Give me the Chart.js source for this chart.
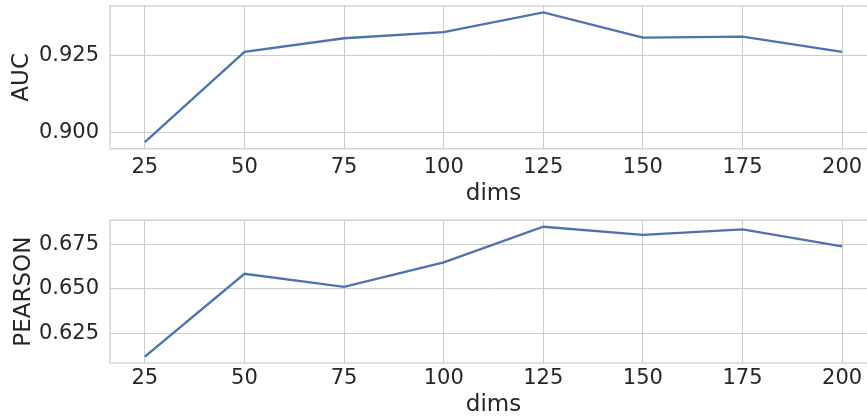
<!DOCTYPE html>
<html>
<head>
<meta charset="utf-8">
<script src="https://cdn.jsdelivr.net/npm/chart.js@4"></script>
<style>
  html, body { margin: 0; padding: 0; background: #fff; overflow: hidden; width: 867px; height: 420px; }
  .panel { position: absolute; left: 0; width: 900px; height: 210px; }
</style>
</head>
<body>
<div class="panel" style="top:0"><canvas id="aucChart"></canvas></div>
<div class="panel" style="top:210px"><canvas id="pearsonChart"></canvas></div>
<script>
const dims = [25, 50, 75, 100, 125, 150, 175, 200];
const auc = [0.8970, 0.9261, 0.9305, 0.9325, 0.9388, 0.9307, 0.9310, 0.9261];
const pearson = [0.6118, 0.6585, 0.6511, 0.6649, 0.6850, 0.6804, 0.6835, 0.6740];
const aucTicks = [0.900, 0.925];
const pearsonTicks = [0.625, 0.650, 0.675];
const dimTicks = [25, 50, 75, 100, 125, 150, 175, 200];

const gridColor = '#cccccc';
const textColor = '#262626';
const font = 'DejaVu Sans';

// draws the top/right spines like seaborn whitegrid
const frame = {
  id: 'frame',
  afterDraw(chart) {
    const { ctx, chartArea: a } = chart;
    ctx.save();
    ctx.strokeStyle = gridColor;
    ctx.lineWidth = 1.25;
    ctx.strokeRect(a.left, a.top, a.right - a.left, a.bottom - a.top);
    ctx.restore();
  }
};

function margins(lo, hi) {
  const pad = (hi - lo) * 0.05;
  return [lo - pad, hi + pad];
}

function makeChart(id, values, yTicks, yLabel, g) {
  const [xMin, xMax] = margins(Math.min(...dims), Math.max(...dims));
  const [yMin, yMax] = margins(Math.min(...values), Math.max(...values));
  return new Chart(document.getElementById(id), {
    type: 'line',
    data: {
      datasets: [{
        data: dims.map((d, i) => ({ x: d, y: values[i] })),
        borderColor: '#4c72b0',
        borderWidth: 2.3,
        pointRadius: 0,
        tension: 0
      }]
    },
    plugins: [frame],
    options: {
      responsive: true,
      maintainAspectRatio: false,
      animation: false,
      layout: { padding: { top: g.top, right: 23, left: 0, bottom: 0 } },
      plugins: { legend: { display: false }, tooltip: { enabled: false } },
      scales: {
        x: {
          type: 'linear',
          min: xMin,
          max: xMax,
          afterBuildTicks: s => { s.ticks = dimTicks.map(v => ({ value: v })); },
          afterFit: s => { s.height = g.xHeight; s.paddingLeft = 0; s.paddingRight = 0; },
          grid: { color: gridColor, lineWidth: 1, drawTicks: false },
          border: { display: false },
          ticks: { color: textColor, font: { family: font, size: 21 }, padding: g.tickPad, maxRotation: 0 },
          title: { display: true, text: 'dims', color: textColor, font: { family: font, size: 23 }, padding: { top: 0, bottom: g.titlePad } }
        },
        y: {
          min: yMin,
          max: yMax,
          afterBuildTicks: s => { s.ticks = yTicks.map(v => ({ value: v })); },
          afterFit: s => { s.width = 110; s.paddingTop = 0; s.paddingBottom = 0; },
          grid: { color: gridColor, lineWidth: 1, drawTicks: false },
          border: { display: false },
          ticks: { color: textColor, font: { family: font, size: 21 }, padding: 11, callback: v => v.toFixed(3) },
          title: { display: true, text: yLabel, color: textColor, font: { family: font, size: 23 }, padding: { top: g.yTitlePad, bottom: 0 } }
        }
      }
    }
  });
}

makeChart('aucChart', auc, aucTicks, 'AUC', { top: 6, xHeight: 61.3, tickPad: 6.2, titlePad: 2.2, yTitlePad: 8.2 });
makeChart('pearsonChart', pearson, pearsonTicks, 'PEARSON', { top: 10.3, xHeight: 57, tickPad: 3.4, titlePad: 0.7, yTitlePad: 10.2 });
</script>
</body>
</html>
